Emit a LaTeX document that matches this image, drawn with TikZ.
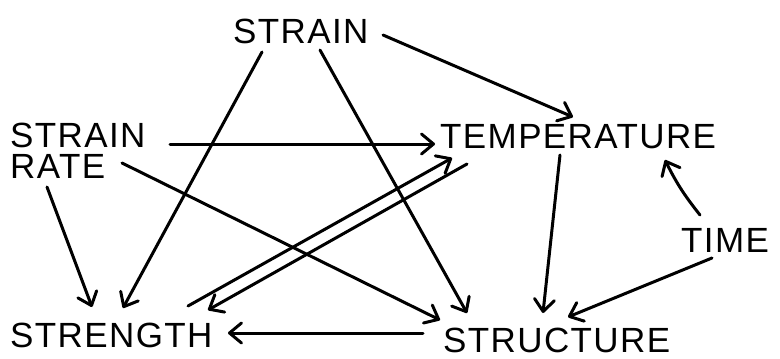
\documentclass[tikz,border=0pt]{standalone}
\usepackage{fontspec}
\setmainfont[LetterSpace=4]{Liberation Sans}
\usetikzlibrary{arrows.meta,calc}
\begin{document}
\begin{tikzpicture}[x=1pt,y=-1pt,
  lbl/.style={inner sep=0pt,anchor=base west,font=\fontsize{35}{31}\selectfont},
  arr/.style={line width=3pt,line cap=round,-{Straight Barb[length=12pt,width=20pt,line width=3pt,round]}}]
\useasboundingbox[fill=white] (0,0) rectangle (780,359);
\node[lbl] (strain) at (233,43) {STRAIN};
\node[lbl,align=left] (rate) at (10,178) {STRAIN\\RATE};
\node[lbl] (temp) at (440,148) {TEMPERATURE};
\node[lbl] (time) at (681,252) {TIME};
\node[lbl] (struct) at (443,352) {STRUCTURE};
\node[lbl] (strength) at (10,347) {STRENGTH};
% strain
\draw[arr] ($(strain.base west)+(150,-8)$) -- ($(temp.base west)+(133,-31)$);
\draw[arr] ($(strain.base west)+(29,9)$) -- ($(strength.base west)+(113,-39)$);
\draw[arr] ($(strain.base west)+(87,7)$) -- ($(struct.base west)+(24,-39)$);
% strain rate
\draw[arr] ($(rate.base west)+(160,-34)$) -- ($(temp.base west)+(-5,-4)$);
\draw[arr] ($(rate.base west)+(112,-15)$) -- ($(struct.base west)+(-3,-32)$);
\draw[arr] ($(rate.base west)+(37,9)$) -- ($(strength.base west)+(82,-40)$);
% strength <-> temperature
\draw[arr] ($(strength.base west)+(178,-41)$) -- ($(temp.base west)+(12,10)$);
\draw[arr] ($(temp.base west)+(27,16)$) -- ($(strength.base west)+(198,-37)$);
% temperature -> structure
\draw[arr] ($(temp.base west)+(120,7)$) -- ($(struct.base west)+(100,-39)$);
% time
\draw[arr] ($(time.base west)+(19,-37)$) to[bend left=6] ($(temp.base west)+(225,12)$);
\draw[arr] ($(time.base west)+(31,6)$) -- ($(struct.base west)+(125,-35)$);
% structure -> strength
\draw[arr] ($(struct.base west)+(-20,-19)$) -- ($(strength.base west)+(218,-14)$);
\end{tikzpicture}
\end{document}
